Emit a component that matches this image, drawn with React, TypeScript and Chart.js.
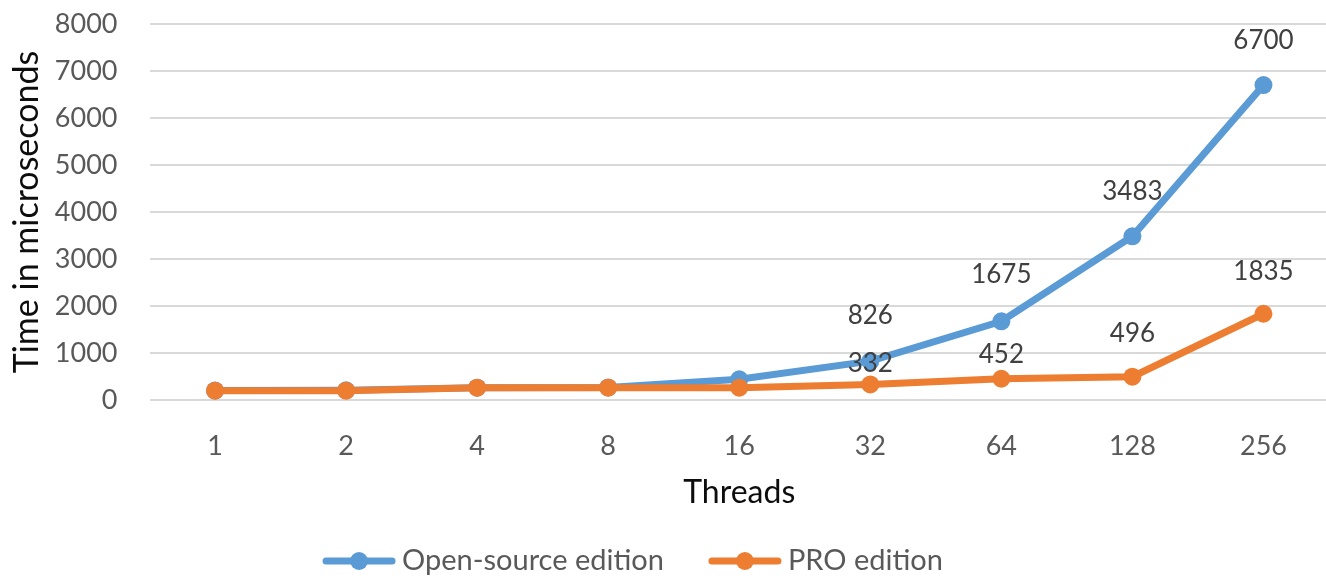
import React, { useEffect, useRef } from "react";
import { Chart, registerables } from "chart.js";

Chart.register(...registerables);

const threads = ["1", "2", "4", "8", "16", "32", "64", "128", "256"];
const openSourceTimes = [200, 205, 262, 268, 440, 826, 1675, 3483, 6700];
const proTimes = [198, 198, 262, 262, 262, 332, 452, 496, 1835];
const labelShown = [false, false, false, false, false, true, true, true, true];
const seriesNames = ["Open-source edition", "PRO edition"];
const yTickValues = [0, 1000, 2000, 3000, 4000, 5000, 6000, 7000, 8000];

const FONT = "Lato, 'Open Sans', 'DejaVu Sans', sans-serif";
const BLUE = "#5B9BD5";
const ORANGE = "#ED7D31";

// style: vertical lift of each value label above its point (Excel staggers crowded ones)
const LABEL_LIFT = [
  [44, 44, 44, 44, 44, 46, 47, 45, 44],
  [22, 22, 22, 22, 22, 21, 24, 43, 42],
];

const valueLabelPlugin = {
  id: "valueLabels",
  afterDatasetsDraw(chart: any) {
    const ctx = chart.ctx;
    ctx.save();
    ctx.font = `26px ${FONT}`;
    ctx.fillStyle = "#404040";
    ctx.textAlign = "center";
    ctx.textBaseline = "middle";
    chart.data.datasets.forEach((ds: any, di: number) => {
      const meta = chart.getDatasetMeta(di);
      meta.data.forEach((pt: any, i: number) => {
        if (!labelShown[i]) return;
        ctx.fillText(String(ds.data[i]), pt.x, pt.y - LABEL_LIFT[di][i]);
      });
    });
    ctx.restore();
  },
};

const legendPlugin = {
  id: "lineLegend",
  afterDraw(chart: any) {
    const ctx = chart.ctx;
    const items = chart.data.datasets;
    ctx.save();
    ctx.font = `29px ${FONT}`;
    const lineW = 72;
    const gapText = 7;
    const gapItems = 45;
    const widths = items.map((d: any) => lineW + gapText + ctx.measureText(d.label).width);
    const total = widths.reduce((a: number, b: number) => a + b, 0) + gapItems * (items.length - 1);
    let x = 633 - total / 2;
    const y = 561;
    items.forEach((d: any, i: number) => {
      ctx.strokeStyle = d.borderColor;
      ctx.lineWidth = 7;
      ctx.lineCap = "round";
      ctx.beginPath();
      ctx.moveTo(x + 3, y);
      ctx.lineTo(x + lineW - 3, y);
      ctx.stroke();
      ctx.fillStyle = d.borderColor;
      ctx.beginPath();
      ctx.arc(x + lineW / 2, y, 9, 0, Math.PI * 2);
      ctx.fill();
      ctx.fillStyle = "#595959";
      ctx.textAlign = "left";
      ctx.textBaseline = "middle";
      ctx.fillText(d.label, x + lineW + gapText, y);
      x += widths[i] + gapItems;
    });
    ctx.restore();
  },
};

export default function App() {
  const canvasRef = useRef<HTMLCanvasElement | null>(null);

  useEffect(() => {
    document.body.style.margin = "0";
    const canvas = canvasRef.current;
    if (!canvas) return;
    const chart = new Chart(canvas, {
      type: "line",
      data: {
        labels: threads,
        datasets: [
          {
            label: seriesNames[0],
            data: openSourceTimes,
            borderColor: BLUE,
            backgroundColor: BLUE,
            borderWidth: 7,
            pointRadius: 9,
            pointBorderWidth: 0,
            pointBackgroundColor: BLUE,
            tension: 0,
            order: 2,
          },
          {
            label: seriesNames[1],
            data: proTimes,
            borderColor: ORANGE,
            backgroundColor: ORANGE,
            borderWidth: 7,
            pointRadius: 9,
            pointBorderWidth: 0,
            pointBackgroundColor: ORANGE,
            tension: 0,
            order: 1,
          },
        ],
      },
      options: {
        responsive: false,
        animation: false,
        devicePixelRatio: 1,
        layout: { autoPadding: false, padding: { top: 24, right: 0, bottom: 0, left: 0 } },
        plugins: {
          legend: { display: false },
          tooltip: { enabled: false },
        },
        scales: {
          x: {
            type: "category",
            offset: true,
            grid: { display: false },
            border: { display: false },
            ticks: {
              color: "#595959",
              font: { family: FONT, size: 27 },
              padding: 22,
              maxRotation: 0,
            },
            title: {
              display: true,
              text: "Threads",
              color: "#0d0d0d",
              font: { family: FONT, size: 32 },
              padding: { top: 0, bottom: 67 },
            },
            afterFit: (scale: any) => {
              scale.height = 179;
            },
          },
          y: {
            min: 0,
            max: 8000,
            afterBuildTicks: (scale: any) => {
              scale.ticks = yTickValues.map((v) => ({ value: v }));
            },
            grid: { color: "#D9D9D9", lineWidth: 2, drawTicks: false },
            border: { display: false },
            ticks: {
              color: "#595959",
              font: { family: FONT, size: 27 },
              padding: 32,
              callback: (value: any) => String(value),
            },
            title: {
              display: true,
              text: "Time in microseconds",
              color: "#0d0d0d",
              font: { family: FONT, size: 34 },
              padding: { top: 7, bottom: 0 },
            },
            afterFit: (scale: any) => {
              scale.width = 149.5;
              scale.paddingTop = 16;
              scale.paddingBottom = 16;
            },
          },
        },
      },
      plugins: [valueLabelPlugin, legendPlugin],
    });
    return () => chart.destroy();
  }, []);

  return (
    <div style={{ position: "fixed", left: 0, top: 0, width: 1326, height: 579, overflow: "hidden", background: "#fff" }}>
      <canvas ref={canvasRef} width={1329} height={579} style={{ display: "block", width: 1329, height: 579 }} />
    </div>
  );
}
